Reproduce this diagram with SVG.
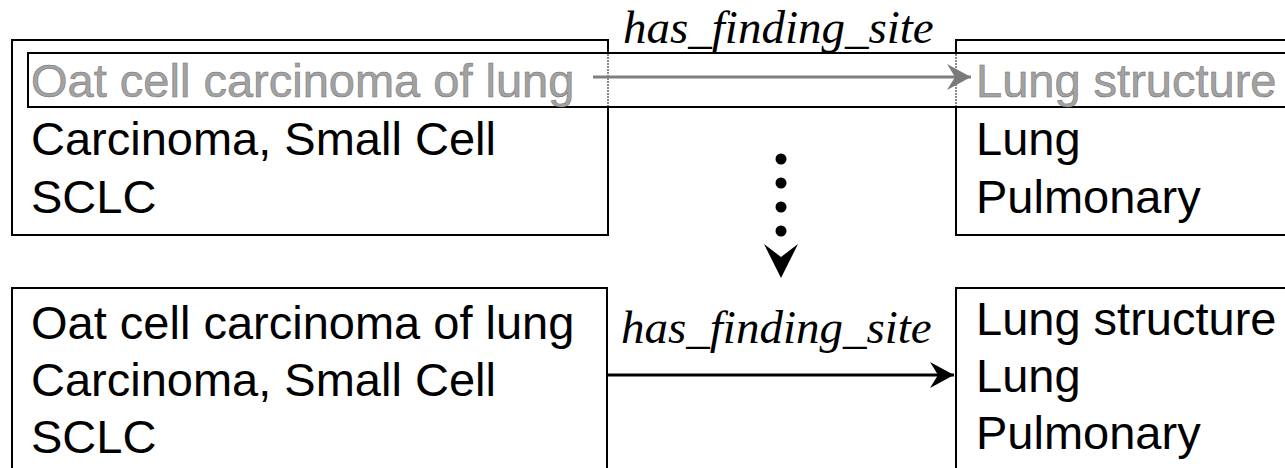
<svg xmlns="http://www.w3.org/2000/svg" width="1285" height="468" viewBox="0 0 1285 468">
<style>
.box{fill:none;stroke:#000;stroke-width:2}
.t{font-family:"Liberation Sans",Arial,sans-serif;font-size:47px;fill:#000}
.g{font-family:"Liberation Sans",Arial,sans-serif;font-size:47px;fill:#a2a2a2;stroke:#6e6e6e;stroke-width:0.5}
.lbl{font-family:"Liberation Serif","Times New Roman",serif;font-style:italic;font-size:47px;fill:#000}
.gl{stroke:#8a8a8a;stroke-width:2;stroke-dasharray:2 1}
</style>
<defs>
<marker id="ah" markerUnits="userSpaceOnUse" markerWidth="30" markerHeight="30" refX="24" refY="13" orient="auto" viewBox="0 0 30 30">
<path d="M0,0 L24,13 L0,26 L8,13 Z" fill="#000"/>
</marker>
<marker id="ahg" markerUnits="userSpaceOnUse" markerWidth="30" markerHeight="30" refX="24" refY="13" orient="auto" viewBox="0 0 30 30">
<path d="M0,0 L24,13 L0,26 L8,13 Z" fill="#7a7a7a"/>
</marker>
</defs>
<rect width="1285" height="468" fill="#fff"/>
<g id="node-top-left">
<rect class="box" x="12" y="40" width="596" height="195"/>
<text class="t" x="31" y="155">Carcinoma, Small Cell</text>
<text class="t" x="31" y="213">SCLC</text>
</g>
<g id="node-top-right">
<rect class="box" x="956" y="40" width="340" height="195"/>
<text class="t" x="976" y="155">Lung</text>
<text class="t" x="976" y="213">Pulmonary</text>
</g>
<g id="highlight-row">
<line x1="608" y1="54" x2="608" y2="106" stroke="#fff" stroke-width="3"/>
<line x1="956" y1="54" x2="956" y2="106" stroke="#fff" stroke-width="3"/>
<line class="gl" x1="608" y1="54" x2="608" y2="106"/>
<line class="gl" x1="956" y1="54" x2="956" y2="106"/>
<rect class="box" x="28" y="53" width="1270" height="54"/>
<text class="g" x="31" y="97">Oat cell carcinoma of lung</text>
<text class="g" x="976" y="97">Lung structure</text>
</g>
<g id="node-bottom-left">
<rect class="box" x="12" y="288" width="595" height="190"/>
<text class="t" x="31" y="339">Oat cell carcinoma of lung</text>
<text class="t" x="31" y="396">Carcinoma, Small Cell</text>
<text class="t" x="31" y="453">SCLC</text>
</g>
<g id="node-bottom-right">
<rect class="box" x="956" y="288" width="340" height="190"/>
<text class="t" x="976" y="335">Lung structure</text>
<text class="t" x="976" y="392">Lung</text>
<text class="t" x="976" y="449">Pulmonary</text>
</g>
<g id="connectors">
<line x1="593" y1="77" x2="971" y2="77" stroke="#7f7f7f" stroke-width="3" marker-end="url(#ahg)"/>
<text class="lbl" x="623" y="43">has_finding_site</text>
<line x1="607" y1="375" x2="954" y2="375" stroke="#000" stroke-width="3" marker-end="url(#ah)"/>
<text class="lbl" x="621" y="343">has_finding_site</text>
<circle cx="781" cy="159" r="5.5" fill="#000"/>
<circle cx="781" cy="183" r="5.5" fill="#000"/>
<circle cx="781" cy="207" r="5.5" fill="#000"/>
<circle cx="781" cy="231" r="5.5" fill="#000"/>
<path d="M764,244 L781,257 L798,244 L781,278 Z" fill="#000"/>
</g>
</svg>
